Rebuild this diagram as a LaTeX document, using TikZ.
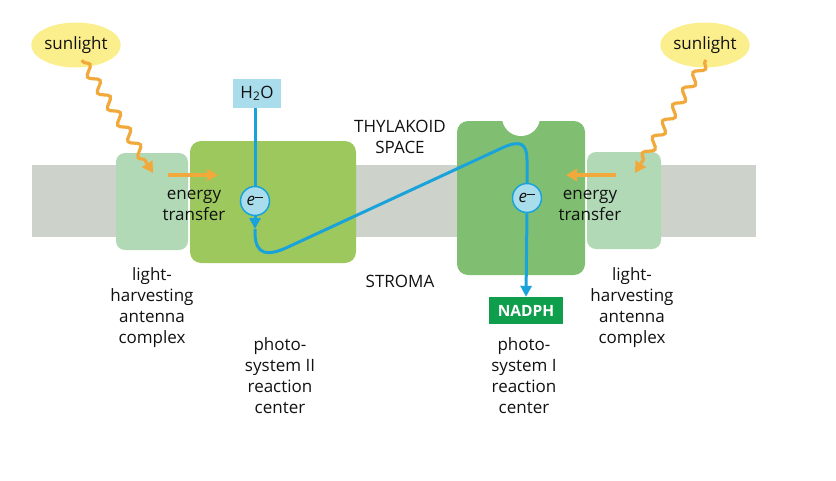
\documentclass[tikz,border=0pt]{standalone}
\usepackage{fontspec}
\setmainfont{Open Sans}
\usetikzlibrary{arrows.meta,decorations.pathmorphing,calc,shapes.geometric}
\definecolor{membr}{HTML}{CDD3CB}
\definecolor{antc}{HTML}{B1D9B6}
\definecolor{psiic}{HTML}{9DC85E}
\definecolor{psic}{HTML}{80BF72}
\definecolor{sunc}{HTML}{FBEE8C}
\definecolor{orng}{HTML}{F2A93B}
\definecolor{eblue}{HTML}{1AA3DB}
\definecolor{lblue}{HTML}{AADDEC}
\definecolor{nadc}{HTML}{0E9E4C}
\definecolor{txt}{HTML}{111111}
\tikzset{
  membrane/.style={fill=membr, draw=none},
  antbox/.style={fill=antc, draw=none, rounded corners=9pt},
  sunnode/.style={ellipse, fill=sunc, minimum width=88pt, minimum height=45pt, inner sep=0pt, font=\fontsize{17}{20}\selectfont, text=txt},
  wave/.style={orng, line width=3.2pt, decorate, decoration={snake, segment length=19pt, amplitude=4.5pt, pre length=2pt, post length=10pt}},
  otip/.style={-{Triangle[length=11pt,width=12pt]}},
  transfer/.style={orng, line width=3.2pt, -{Triangle[length=11pt,width=12pt]}},
  lbl/.style={align=center, text=txt, font=\fontsize{17}{21}\selectfont, inner sep=0pt},
  eline/.style={eblue, line width=3pt},
  etip/.style={-{Triangle[length=11pt,width=11pt]}},
  ecirc/.style={circle, fill=lblue, draw=eblue, line width=1.5pt, minimum size=29pt, inner sep=0pt, font=\fontsize{17}{20}\selectfont, text=txt},
}
\begin{document}
\begin{tikzpicture}[x=1pt,y=-1pt]
\useasboundingbox (0,0) rectangle (836,480);
% membrane
\fill[membrane] (32,165) rectangle (118,237);
\fill[membrane] (354,165) rectangle (460,237);
\fill[membrane] (659,165) rectangle (756,237);
% antenna
\fill[antbox] (116,153) rectangle (188,250);
\fill[antbox] (587,152) rectangle (661,249);
% PSII
\fill[psiic, rounded corners=11pt] (190,141) rectangle (356,263);
% PSI with notch
\fill[psic, rounded corners=11pt] (457,121) rectangle (585,275);
\fill[white] (521,117) circle (19);
% sunlight
\node[sunnode] (sunL) at (76,45) {sunlight};
\node[sunnode] (sunR) at (705,45) {sunlight};
\coordinate (wL0) at (82,60);
\coordinate (wL1) at (153,173);
\coordinate (wR0) at (706,60);
\coordinate (wR1) at (635,173);
\draw[wave, otip] (wL0) -- (wL1);
\draw[wave, otip] (wR0) -- (wR1);
% energy transfer arrows
\coordinate (tL0) at (168,175);
\coordinate (tL1) at (218,175);
\coordinate (tR0) at (616,175);
\coordinate (tR1) at (566,175);
\draw[transfer] (tL0) -- (tL1);
\draw[transfer] (tR0) -- (tR1);
\node[lbl] (etL) at (194,205) {energy\\transfer};
\node[lbl] (etR) at (590,205) {energy\\transfer};
% H2O
\node[fill=lblue, minimum width=48pt, minimum height=29pt, inner sep=0pt, font=\fontsize{17}{20}\selectfont, text=txt] (h2o) at (257,93.5) {H\textsubscript{2}O};
% electron path
\node[ecirc] (e1) at (255,201) {\textit{e}\raisebox{0.85ex}{\rule{0.5em}{1.3pt}}};
\node[ecirc] (e2) at (527,198) {\textit{e}\raisebox{0.85ex}{\rule{0.5em}{1.3pt}}};
\node[fill=nadc, text=white, minimum width=74pt, minimum height=27pt, inner sep=0pt, font=\fontsize{15.5}{20}\selectfont\bfseries] (nadph) at (526,310.5) {NADPH};
\coordinate (a1) at (255,229);
\draw[eline] (h2o.south -| e1) -- (e1.north);
\draw[eline, etip] (e1.south) -- (a1);
\draw[eline] (a1) -- (255,232) .. controls (255,256) and (268,256) .. (287,247.5) -- (503,147.5) .. controls (520,140) and (527,143) .. (527,160) -- (e2.north);
\draw[eline, etip] (e2.south) -- (nadph.north);
% labels
\node[lbl] (thy) at (400,137) {THYLAKOID\\SPACE};
\node[lbl] (str) at (400,281) {STROMA};
\node[lbl] (lhL) at (152,308) {light-\\harvesting\\antenna\\complex};
\node[lbl] (lhR) at (632,308) {light-\\harvesting\\antenna\\complex};
\node[lbl] (ps2) at (280,376) {photo-\\system II\\reaction\\center};
\node[lbl] (ps1) at (524,376) {photo-\\system I\\reaction\\center};
\end{tikzpicture}
\end{document}
